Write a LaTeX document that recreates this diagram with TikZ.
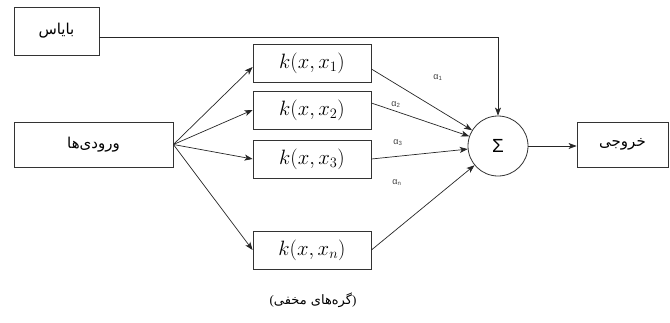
\documentclass[tikz,border=0pt]{standalone}
\usepackage{fontspec}
\usetikzlibrary{arrows.meta,positioning}
\TeXXeTstate=1
\newfontfamily\arabicfont[Script=Arabic]{DejaVu Sans}
\newfontfamily\sansfont{Liberation Sans}
\newfontfamily\seriffont{Liberation Serif}
\begin{document}
\begin{tikzpicture}[x=1pt,y=-1pt,
  box/.style={draw=black!80,line width=0.8pt,rectangle,inner sep=0pt},
  kbox/.style={box,minimum width=118pt,minimum height=38pt,font=\fontsize{20}{22}\selectfont},
  conn/.style={line width=0.7pt,draw=black!85,-{Stealth[length=8pt,width=6pt,inset=2pt]}},
  alab/.style={font=\sansfont\fontsize{9}{10}\selectfont,inner sep=0pt,text=black!75},
  ar/.style={font=\arabicfont\fontsize{15}{18}\selectfont}]
\useasboundingbox (0,0) rectangle (670,322);
\node[box,minimum width=85pt,minimum height=48pt,ar] (bias) at (56.5,31) {\beginR بایاس\endR};
\node[box,minimum width=159pt,minimum height=45pt,ar] (inp) at (93.5,144.5) {\beginR ورودی‌ها\endR};
\node[kbox] (k1) at (312,63) {$k(x,x_1)$};
\node[kbox] (k2) at (312,110) {$k(x,x_2)$};
\node[kbox] (k3) at (312,159) {$k(x,x_3)$};
\node[kbox] (kn) at (312,250) {$k(x,x_n)$};
\node[draw=black!80,line width=0.8pt,circle,minimum size=60pt,inner sep=0pt,font=\sansfont\fontsize{19}{20}\selectfont] (sum) at (498,146) {Σ};
\node[box,minimum width=91pt,minimum height=45pt,ar] (out) at (622.5,144.5) {\beginR خروجی\endR};
\node[font=\seriffont\fontsize{13}{15}\selectfont] (cap) at (313,300) {({\arabicfont\beginR گره‌های مخفی\endR})};
\node[alab] (a1) at (438,78) {α\textsubscript{1}};
\node[alab] (a2) at (396,105) {α\textsubscript{2}};
\node[alab] (a3) at (398,143) {α\textsubscript{3}};
\node[alab] (an) at (397,183) {α\textsubscript{n}};
% bias connector
\draw[conn] ([yshift=-6pt]bias.east) -| (sum.north);
% inputs to kernels
\draw[conn] (inp.east) -- ([yshift=-4pt]k1.west);
\draw[conn] (inp.east) -- (k2.west);
\draw[conn] (inp.east) -- (k3.west);
\draw[conn] (inp.east) -- (kn.west);
% kernels to sum
\draw[conn] ([yshift=-6pt]k1.east) -- (sum);
\draw[conn] ([yshift=7pt]k2.east) -- (sum);
\draw[conn] (k3.east) -- (sum);
\draw[conn] (kn.east) -- (sum);
% sum to output
\draw[conn] (sum.east) -- (sum.east -| out.west);
\end{tikzpicture}
\end{document}
